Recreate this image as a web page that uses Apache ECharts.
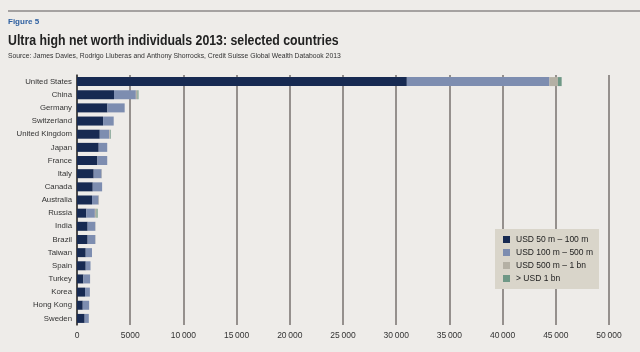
<!DOCTYPE html>
<html lang="en">
<head>
<meta charset="UTF-8">
<title>Ultra high net worth individuals 2013</title>
<script src="https://cdn.jsdelivr.net/npm/echarts@6/dist/echarts.min.js"></script>
<style>
  html, body { margin: 0; padding: 0; background: #eeece9; }
  #chart { width: 640px; height: 352px; }
</style>
</head>
<body>
<div id="chart"></div>
<script>
  // countries, top to bottom
  let countries = ['United States', 'China', 'Germany', 'Switzerland', 'United Kingdom', 'Japan', 'France',
    'Italy', 'Canada', 'Australia', 'Russia', 'India', 'Brazil', 'Taiwan', 'Spain', 'Turkey', 'Korea',
    'Hong Kong', 'Sweden']
  // number of individuals per wealth band
  let band50to100 = [31000, 3480, 2860, 2450, 2140, 2040, 1920, 1570, 1480, 1410, 880, 1000, 1000, 820, 820, 600, 750, 540, 720]
  let band100to500 = [13400, 2050, 1620, 1000, 900, 800, 920, 740, 880, 620, 800, 720, 720, 590, 450, 630, 460, 600, 390]
  let band500to1bn = [800, 150, 0, 0, 80, 0, 0, 30, 0, 40, 150, 20, 20, 0, 0, 0, 0, 0, 0]
  let bandOver1bn = [350, 100, 0, 0, 60, 0, 0, 0, 0, 0, 110, 0, 0, 0, 0, 0, 0, 0, 0]
  let bandNames = ['USD 50 m \u2013 100 m', 'USD 100 m \u2013 500 m', 'USD 500 m \u2013 1 bn', '> USD 1 bn']
  let bandColors = ['#172a52', '#7d8db0', '#b4b0a4', '#6f9886']

  let chart = echarts.init(document.getElementById('chart'))
  let font = 'Liberation Sans, Arial, sans-serif'

  // 10000 -> "10 000"
  function fmt(v) {
    return v >= 10000 ? String(v).replace(/(\d{2})(\d{3})$/, '$1\u2009$2') : String(v)
  }

  let seriesData = [band50to100, band100to500, band500to1bn, bandOver1bn]
  let series = seriesData.map((d, i) => {
    return {
      name: bandNames[i],
      type: 'bar',
      stack: 'total',
      barWidth: 9,
      data: d,
      itemStyle: { color: bandColors[i] }
    }
  })

  chart.setOption({
    backgroundColor: '#eeece9',
    animation: false,
    textStyle: { fontFamily: font },
    graphic: [
      { type: 'line', shape: { x1: 8, y1: 11, x2: 640, y2: 11 }, style: { stroke: '#8c8a88', lineWidth: 1.5 } },
      { type: 'text', x: 8, y: 18, style: { text: 'Figure 5', font: 'bold 8px ' + font, fill: '#2d5fa0' } },
      { type: 'text', x: 8, y: 34, scaleX: 0.88, style: { text: 'Ultra high net worth individuals 2013: selected countries', font: 'bold 14px ' + font, fill: '#222' } },
      { type: 'text', x: 8, y: 53, style: { text: 'Source: James Davies, Rodrigo Lluberas and Anthony Shorrocks, Credit Suisse Global Wealth Databook 2013', font: '6.8px ' + font, fill: '#333' } }
    ],
    legend: {
      orient: 'vertical',
      left: 495,
      top: 229,
      backgroundColor: '#d9d5ca',
      padding: [6, 6, 6, 8],
      itemWidth: 7,
      itemHeight: 7,
      itemGap: 4,
      icon: 'rect',
      data: bandNames,
      textStyle: { fontSize: 8.5, color: '#222', padding: [0, 0, 0, 1] }
    },
    grid: { left: 77, right: 31, top: 75, bottom: 27 },
    xAxis: {
      type: 'value',
      min: 0,
      max: 50000,
      interval: 5000,
      axisLine: { show: false },
      axisTick: { show: false },
      splitLine: { show: true, lineStyle: { color: '#77726e', width: 1.5 } },
      axisLabel: { fontSize: 8.5, color: '#333', margin: 6, formatter: v => fmt(v) }
    },
    yAxis: {
      type: 'category',
      data: countries,
      inverse: true,
      axisLine: { show: true, lineStyle: { color: '#333', width: 1.5 } },
      axisTick: { show: false },
      axisLabel: { fontSize: 7.8, color: '#333', margin: 5 }
    },
    series: series
  })
</script>
</body>
</html>
